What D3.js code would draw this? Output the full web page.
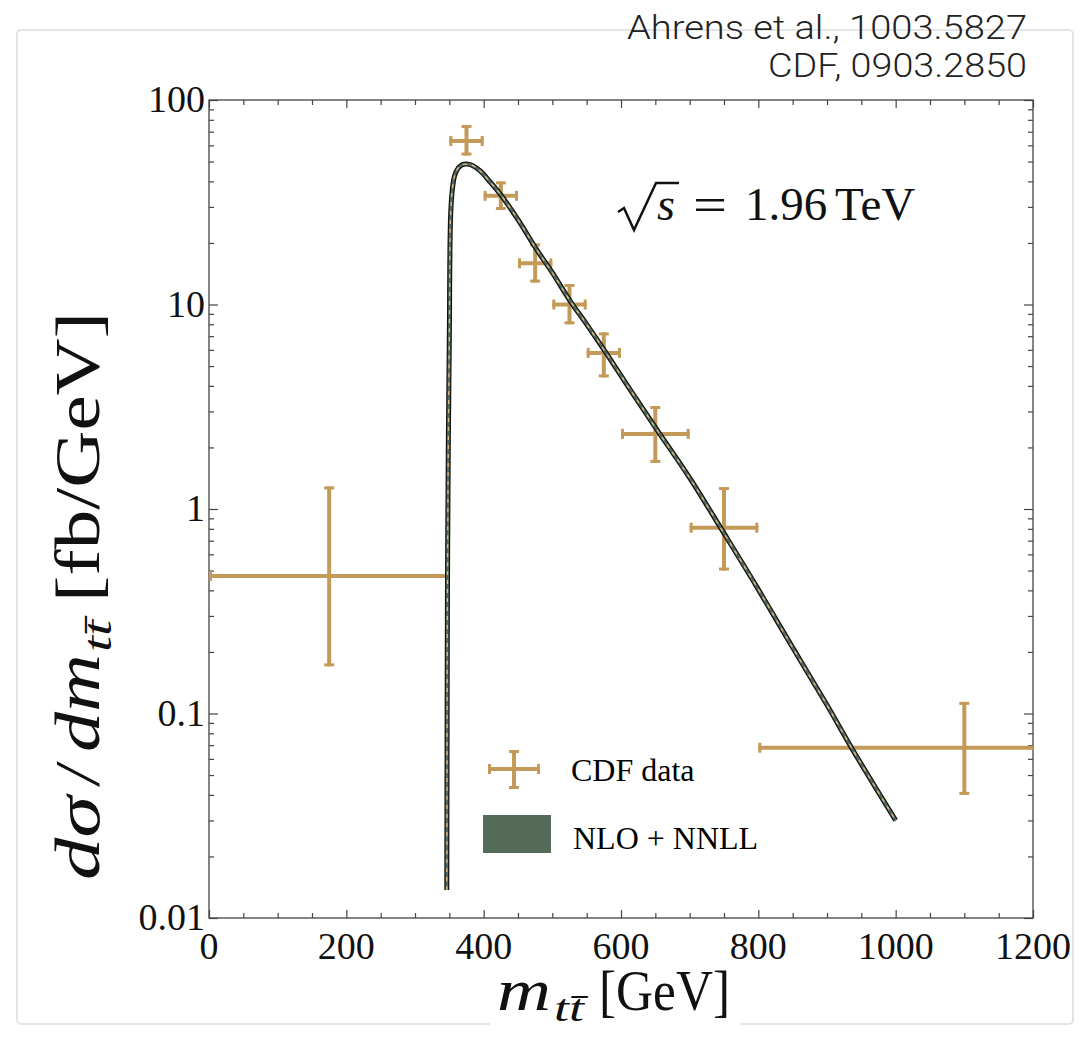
<!DOCTYPE html>
<html>
<head>
<meta charset="utf-8">
<script src="https://cdn.jsdelivr.net/npm/d3@7"></script>
<style>
  body { margin: 0; background: #fff; }
  svg { display: block; }
</style>
</head>
<body>
<div id="chart"></div>
<script>
// CDF data: bins in m_tt (GeV), central value and error band (fb/GeV)
const binLo   = [0,    350,  400,  450,  500,  550,  600,  700,  800];
const binHi   = [350,  400,  450,  500,  550,  600,  700,  800,  1400];
const binMid  = [175,  375,  425,  475,  525,  575,  650,  750,  1100];
const dataVal = [0.47, 63,   34,   15.9, 10,   5.8,  2.33, 0.81, 0.068];
const dataLo  = [0.17, 53.5, 29,   12.8, 8.0,  4.4,  1.68, 0.50, 0.040];
const dataHi  = [1.29, 75.5, 40,   19.9, 12.6, 7.3,  3.19, 1.28, 0.114];

// NLO + NNLL curve
const theoryX = [346.3, 346.6, 347, 347.5, 348.5, 350, 352, 355, 358, 363, 369, 375, 383, 395, 410, 426, 450, 477, 500, 526, 550, 579, 613, 652, 700, 747, 798, 850, 900, 938, 1000];
const theoryY = [0.0137, 0.05, 0.2, 0.6, 2, 7, 28, 38, 43, 46.5, 48.3, 48.6, 48, 45, 39.5, 34, 26, 18.6, 14.3, 10.4, 8.0, 5.75, 3.85, 2.45, 1.42, 0.79, 0.415, 0.21, 0.11, 0.066, 0.030];

const xTicks = [0, 200, 400, 600, 800, 1000, 1200];
const yTicks = [0.01, 0.1, 1, 10, 100];
const yTickLabels = ["0.01", "0.1", "1", "10", "100"];

const W = 1088, H = 1055;
const margin = {left: 209, right: 55, top: 100, bottom: 137};
const tan = "#c49a58", green = "#546b59";

const svg = d3.select("#chart").append("svg").attr("width", W).attr("height", H);

// light outer frame
svg.append("rect").attr("x", 17).attr("y", 30).attr("width", 1056).attr("height", 994)
  .attr("rx", 4).attr("fill", "none").attr("stroke", "#e4e4e4").attr("stroke-width", 2);

const x = d3.scaleLinear().domain([0, 1200]).range([margin.left, W - margin.right]);
const y = d3.scaleLog().domain([0.01, 100]).range([H - margin.bottom, margin.top]);

svg.append("clipPath").attr("id", "clip").append("rect")
  .attr("x", x(0)).attr("y", y(100)).attr("width", x(1200) - x(0)).attr("height", y(0.01) - y(100));

// minor ticks
let yMinor = [];
[0.01, 0.1, 1, 10].forEach(d => { for (let k = 2; k < 10; k++) yMinor.push(d * k); });
const xMinor = d3.range(50, 1200, 100).concat(d3.range(100, 1200, 200));

function tickAxis(axis, g) {
  g.call(axis);
  g.select(".domain").remove();
  g.selectAll("line").attr("stroke", "#444").attr("stroke-width", 1.2);
}
const axG = svg.append("g");
// left / right
tickAxis(d3.axisLeft(y).tickValues(yTicks).tickSize(-9).tickFormat(""), axG.append("g").attr("transform", `translate(${x(0)},0)`));
tickAxis(d3.axisLeft(y).tickValues(yMinor).tickSize(-5).tickFormat(""), axG.append("g").attr("transform", `translate(${x(0)},0)`));
tickAxis(d3.axisRight(y).tickValues(yTicks).tickSize(-9).tickFormat(""), axG.append("g").attr("transform", `translate(${x(1200)},0)`));
tickAxis(d3.axisRight(y).tickValues(yMinor).tickSize(-5).tickFormat(""), axG.append("g").attr("transform", `translate(${x(1200)},0)`));
// bottom / top
tickAxis(d3.axisBottom(x).tickValues(xTicks).tickSize(-8).tickFormat(""), axG.append("g").attr("transform", `translate(0,${y(0.01)})`));
tickAxis(d3.axisBottom(x).tickValues(xMinor).tickSize(-5).tickFormat(""), axG.append("g").attr("transform", `translate(0,${y(0.01)})`));
tickAxis(d3.axisTop(x).tickValues(xTicks).tickSize(-8).tickFormat(""), axG.append("g").attr("transform", `translate(0,${y(100)})`));
tickAxis(d3.axisTop(x).tickValues(xMinor).tickSize(-5).tickFormat(""), axG.append("g").attr("transform", `translate(0,${y(100)})`));

svg.append("rect").attr("x", x(0)).attr("y", y(100)).attr("width", x(1200) - x(0)).attr("height", y(0.01) - y(100))
  .attr("fill", "none").attr("stroke", "#444").attr("stroke-width", 1.3);

// tick labels
svg.append("g").selectAll("text").data(yTicks).join("text")
  .attr("x", x(0) - 4).attr("y", d => y(d) + 12)
  .attr("text-anchor", "end").attr("font-family", "Liberation Serif").attr("font-size", 38)
  .attr("fill", "#111").text((d, i) => yTickLabels[i]);
svg.append("g").selectAll("text").data(xTicks).join("text")
  .attr("x", d => x(d)).attr("y", 959)
  .attr("text-anchor", "middle").attr("font-family", "Liberation Serif").attr("font-size", 38)
  .attr("fill", "#111").text(d => d);

// data crosses
const plot = svg.append("g").attr("clip-path", "url(#clip)");
const cap = 5;
const pts = binMid.map((m, i) => ({m, lo: binLo[i], hi: binHi[i], v: dataVal[i], el: dataLo[i], eh: dataHi[i]}));
const cross = plot.selectAll("g.pt").data(pts).join("g").attr("stroke", tan).attr("stroke-width", 4);
cross.append("line").attr("x1", d => x(d.lo)).attr("x2", d => x(d.hi)).attr("y1", d => y(d.v)).attr("y2", d => y(d.v));
cross.append("line").attr("x1", d => x(d.m)).attr("x2", d => x(d.m)).attr("y1", d => y(d.el)).attr("y2", d => y(d.eh));
cross.append("line").attr("x1", d => x(d.lo) + 1.5).attr("x2", d => x(d.lo) + 1.5).attr("y1", d => y(d.v) - cap).attr("y2", d => y(d.v) + cap).attr("stroke-width", 3);
cross.append("line").attr("x1", d => x(d.hi) - 1.5).attr("x2", d => x(d.hi) - 1.5).attr("y1", d => y(d.v) - cap).attr("y2", d => y(d.v) + cap).attr("stroke-width", 3);
cross.append("line").attr("x1", d => x(d.m) - cap).attr("x2", d => x(d.m) + cap).attr("y1", d => y(d.el) - 1.5).attr("y2", d => y(d.el) - 1.5).attr("stroke-width", 3);
cross.append("line").attr("x1", d => x(d.m) - cap).attr("x2", d => x(d.m) + cap).attr("y1", d => y(d.eh) + 1.5).attr("y2", d => y(d.eh) + 1.5).attr("stroke-width", 3);

// theory band
const line = d3.line().x(d => x(d)).y((d, i) => y(theoryY[i])).curve(d3.curveCatmullRom.alpha(0.5));
const dPath = line(theoryX);
plot.append("path").attr("d", dPath).attr("fill", "none").attr("stroke", "#111").attr("stroke-width", 5);
plot.append("path").attr("d", dPath).attr("fill", "none").attr("stroke", green).attr("stroke-width", 2.6);
plot.append("path").attr("d", dPath).attr("fill", "none").attr("stroke", "#d8bf86").attr("stroke-width", 1.3).attr("stroke-dasharray", "4,5");

// legend
const lg = svg.append("g");
lg.append("g").attr("stroke", tan).attr("stroke-width", 4).call(g => {
  g.append("line").attr("x1", 488).attr("x2", 540).attr("y1", 769).attr("y2", 769);
  g.append("line").attr("x1", 514).attr("x2", 514).attr("y1", 750).attr("y2", 789);
  g.append("line").attr("x1", 489.5).attr("x2", 489.5).attr("y1", 764).attr("y2", 774).attr("stroke-width", 3);
  g.append("line").attr("x1", 538.5).attr("x2", 538.5).attr("y1", 764).attr("y2", 774).attr("stroke-width", 3);
  g.append("line").attr("x1", 509).attr("x2", 519).attr("y1", 751.5).attr("y2", 751.5).attr("stroke-width", 3);
  g.append("line").attr("x1", 509).attr("x2", 519).attr("y1", 787.5).attr("y2", 787.5).attr("stroke-width", 3);
});
lg.append("rect").attr("x", 483).attr("y", 815).attr("width", 68).attr("height", 38).attr("fill", green);
lg.append("text").attr("x", 571).attr("y", 781).attr("font-family", "Liberation Serif").attr("font-size", 32).text("CDF data");
lg.append("text").attr("x", 573).attr("y", 849).attr("font-family", "Liberation Serif").attr("font-size", 32).text("NLO + NNLL");

// sqrt(s) annotation
const ann = svg.append("g").attr("font-family", "Liberation Serif").attr("fill", "#111");
ann.append("path").attr("d", "M618,212 L624,208 L634,230 L656,183 L679,183")
  .attr("fill", "none").attr("stroke", "#111").attr("stroke-width", 2.5).attr("stroke-linejoin", "miter");
ann.append("text").attr("x", 657).attr("y", 220).attr("font-size", 46).attr("font-style", "italic").text("s");
ann.append("text").attr("x", 693).attr("y", 221).attr("font-size", 48).attr("textLength", 34).attr("lengthAdjust", "spacingAndGlyphs").text("=");
ann.append("text").attr("x", 745).attr("y", 220).attr("font-size", 47).text("1.96");
ann.append("text").attr("x", 835).attr("y", 220).attr("font-size", 47).text("TeV");

// top-right citation
svg.append("g").attr("font-family", "Roboto").attr("font-weight", 300).attr("font-size", 34)
  .attr("fill", "#222").attr("text-anchor", "end")
  .call(g => {
    g.append("text").attr("x", 1027).attr("y", 39).attr("textLength", 400).attr("lengthAdjust", "spacingAndGlyphs").text("Ahrens et al., 1003.5827");
    g.append("text").attr("x", 1027).attr("y", 77).attr("textLength", 259).attr("lengthAdjust", "spacingAndGlyphs").text("CDF, 0903.2850");
  });

// x-axis label
svg.append("rect").attr("x", 490).attr("y", 1005).attr("width", 250).attr("height", 40).attr("fill", "#fff");
const xl = svg.append("g").attr("font-family", "Liberation Serif").attr("fill", "#111");
xl.append("text").attr("x", 497).attr("y", 1010).attr("font-size", 60).attr("font-style", "italic")
  .attr("textLength", 54).attr("lengthAdjust", "spacingAndGlyphs").text("m");
xl.append("text").attr("x", 554).attr("y", 1021).attr("font-size", 38).attr("font-style", "italic")
  .attr("textLength", 30).attr("lengthAdjust", "spacingAndGlyphs").text("tt\u0304");
xl.append("text").attr("x", 599).attr("y", 1010).attr("font-size", 58)
  .attr("textLength", 131).attr("lengthAdjust", "spacingAndGlyphs").text("[GeV]");

// y-axis label (rotated); positions along the baseline measured from y = 880
const yl = svg.append("g").attr("transform", "translate(99,880) rotate(-90)")
  .attr("font-family", "Liberation Serif").attr("fill", "#111");
yl.append("text").attr("x", 0).attr("y", 0).attr("font-size", 64).attr("font-style", "italic")
  .attr("textLength", 84).attr("lengthAdjust", "spacingAndGlyphs").text("dσ");
yl.append("text").attr("x", 96).attr("y", 0).attr("font-size", 64).attr("font-style", "italic").text("/");
yl.append("text").attr("x", 128).attr("y", 0).attr("font-size", 64).attr("font-style", "italic")
  .attr("textLength", 98).attr("lengthAdjust", "spacingAndGlyphs").text("dm");
yl.append("text").attr("x", 228).attr("y", 12).attr("font-size", 40).attr("font-style", "italic")
  .attr("textLength", 32).attr("lengthAdjust", "spacingAndGlyphs").text("tt\u0304");
yl.append("text").attr("x", 278).attr("y", 0).attr("font-size", 64)
  .attr("textLength", 290).attr("lengthAdjust", "spacingAndGlyphs").text("[fb/GeV]");
</script>
</body>
</html>
